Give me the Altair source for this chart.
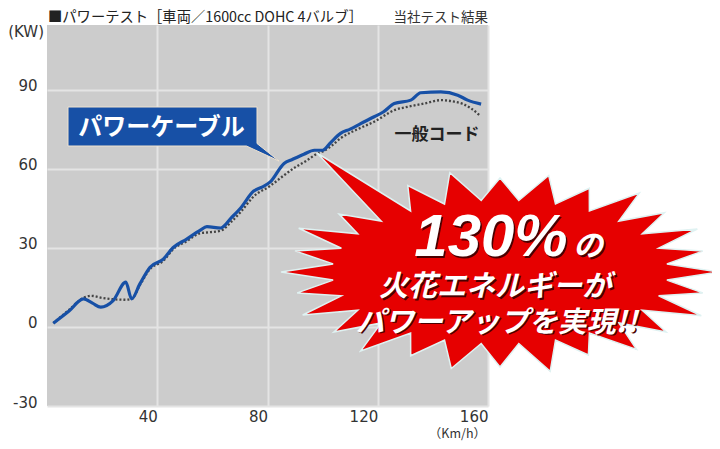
import altair as alt
import pandas as pd
import numpy as np

# ---------------- data ----------------
cable_speed = [2.3, 8, 13.2, 16.5, 19.5, 24, 28.6, 30.7, 33.7, 37.4, 42.2, 45.8, 50.7, 55.5, 58,
               63, 67, 70.2, 75, 78, 81, 86, 89, 93.2, 97, 100, 103, 106.5, 110, 113.8, 118.7,
               122, 126, 132, 135.6, 142.9, 149, 152.6, 157.5]
cable_kw = [1.4, 6, 10.6, 9.0, 7.5, 10, 17, 10.6, 16.3, 22.6, 25.7, 30.1, 33.3, 36.6, 38,
            37.5, 41.5, 45, 51.5, 53, 55, 62, 63.5, 65.5, 67, 67, 70, 73.4, 75, 77.1, 79.7,
            81.5, 84.7, 86, 88.8, 89.1, 87.9, 86, 84.5]

cord_speed = [2.3, 8, 13.2, 16, 20, 24, 28, 30.7, 33.7, 37.4, 42.2, 45.8, 50.7, 55.5, 58,
              63, 67, 70.2, 75, 81, 86, 90, 94.4, 98, 100, 103, 106.5, 113.8, 118.7, 126,
              131, 136.8, 143, 147.8, 151, 153.8, 156.8]
cord_kw = [1.4, 6.5, 11, 11.8, 11, 10.5, 10.3, 10.6, 15.8, 22, 25, 29.5, 32.5, 35.5, 35.8,
           36.5, 40, 43.5, 49.5, 53.5, 57.5, 60.5, 63.2, 65.7, 66.5, 68.5, 71.5, 75.5, 77.8, 82.2,
           83.5, 84.7, 86, 85.4, 84.5, 82.9, 80.4]

x_ticks = [40, 80, 120, 160]
y_ticks = [-30, 0, 30, 60, 90]

title_text = "■パワーテスト［車両／1600cc DOHC 4バルブ］"
source_text = "当社テスト結果"
y_unit = "(KW)"
x_unit = "（Km/h）"
cable_label = "パワーケーブル"
cord_label = "一般コード"
burst_big = "130%"
burst_no = "の"
burst_line2 = "火花エネルギーが"
burst_line3 = "パワーアップを実現!!"

# ---------------- chart ----------------
W, H = 441, 381
JP = "Noto Sans CJK JP"

x_scale = alt.Scale(domain=[0, 160], nice=False, zero=False)
y_scale = alt.Scale(domain=[-30, 114.5], nice=False, zero=False)

x_enc = alt.X("speed:Q", scale=x_scale,
              axis=alt.Axis(values=x_ticks, labelAlign="right", labelPadding=3, title=None,
                            labelExpr="'' + datum.value"))
y_enc = alt.Y("kw:Q", scale=y_scale,
              axis=alt.Axis(values=y_ticks, labelPadding=10, labelOffset=-4, title=None,
                            labelExpr="'' + datum.value"))

cable_df = pd.DataFrame({"speed": cable_speed, "kw": cable_kw})
cord_df = pd.DataFrame({"speed": cord_speed, "kw": cord_kw})
one = pd.DataFrame({"d": [0]})

cord_line = alt.Chart(cord_df).mark_line(
    color="#444444", strokeWidth=2.3, strokeDash=[2, 2], interpolate="monotone"
).encode(x=x_enc, y=y_enc)

cable_line = alt.Chart(cable_df).mark_line(
    color="#1750a6", strokeWidth=3.2, interpolate="monotone"
).encode(x=x_enc, y=y_enc)


def txt(text, x, y, **kw):
    return alt.Chart(one).mark_text(text=text, **kw).encode(x=alt.value(x), y=alt.value(y))


def symbol(path, x, y, size, **kw):
    return alt.Chart(one).mark_point(shape=path, filled=True, opacity=1, size=size, **kw).encode(
        x=alt.value(x), y=alt.value(y))


# burst (decorative star shape, unit = 100 px)
def star_path():
    n = 28
    rxo, ryo = 2.19, 0.99
    rxi, ryi = 1.68, 0.72
    jit = [1.0, 0.95, 1.02, 0.97, 1.0, 0.93, 1.03, 0.96, 1.0, 0.94, 1.02, 0.97, 1.0, 0.95,
           1.0, 0.96, 1.02, 0.94, 1.0, 0.97, 1.03, 0.95, 1.0, 0.94, 1.02, 0.96, 1.0, 0.95]
    pts = []
    for k in range(n):
        a = 2 * np.pi * k / n
        b = 2 * np.pi * (k + 0.5) / n
        pts.append((rxo * jit[k] * np.cos(a), ryo * jit[k] * np.sin(a)))
        pts.append((rxi * np.cos(b), ryi * np.sin(b)))
    pts[2 * 18] = (-1.83, -1.19)
    return "M " + " L ".join(f"{px:.3f} {py:.3f}" for px, py in pts) + " Z"


callout_path = ("M -0.945 -0.195 L 0.945 -0.195 L 0.945 0.17 L 1.165 0.345 "
                "L 0.84 0.195 L -0.945 0.195 Z")

burst = symbol(star_path(), 453, 247, 40000, fill="#e60000", stroke="#dff2f2", strokeWidth=1.5)
callout = symbol(callout_path, 115.5, 101.5, 40000, fill="#1750a6", stroke="#efe2cf", strokeWidth=1)

layers = [
    cord_line,
    cable_line,
    callout,
    txt(cable_label, 114.5, 102.5, font=JP, fontSize=24, fontWeight="bold", color="white"),
    txt(cord_label, 390, 109.5, font=JP, fontSize=17, fontWeight="bold", color="#222222"),
    burst,
]

shadow = "#4a0000"
for t, x, y, kw in [
    (burst_big, 444, 213, dict(font="Liberation Sans", fontSize=60, fontWeight="bold", fontStyle="italic")),
    (burst_no, 526, 222, dict(font=JP, fontSize=30, fontWeight="bold", fontStyle="italic", align="left")),
    (burst_line2, 448, 262, dict(font=JP, fontSize=29, fontWeight="bold", fontStyle="italic")),
    (burst_line3, 449.5, 297.5, dict(font=JP, fontSize=29, fontWeight="bold", fontStyle="italic")),
]:
    layers.append(txt(t, x, y, color=shadow, dx=1.5, dy=1.5, **kw))
    layers.append(txt(t, x, y, color="white", **kw))

layers += [
    txt(title_text, 1, -7, font=JP, fontSize=14.3, align="left", color="#222222"),
    txt(source_text, 441, -7, font=JP, fontSize=13.5, align="right", color="#333333"),
    txt(y_unit, -3, 7, font="DejaVu Sans", fontSize=15, align="right", color="#333333"),
    txt(x_unit, 439, 416, font=JP, fontSize=12.5, align="right", baseline="bottom", color="#333333"),
]

chart = alt.layer(*layers).properties(
    width=W, height=H,
    autosize=alt.AutoSizeParams(type="none"),
    padding={"left": 39, "top": 17, "right": 224, "bottom": 35},
).configure_view(
    fill="#cccccc", stroke=None
).configure_axis(
    grid=True, gridColor="#e4e4e4", gridWidth=2, domain=False, ticks=False,
    labelFont="DejaVu Sans", labelFontSize=15, labelColor="#333333"
)

chart.save("out.html", embed_options={"renderer": "svg", "actions": False})
